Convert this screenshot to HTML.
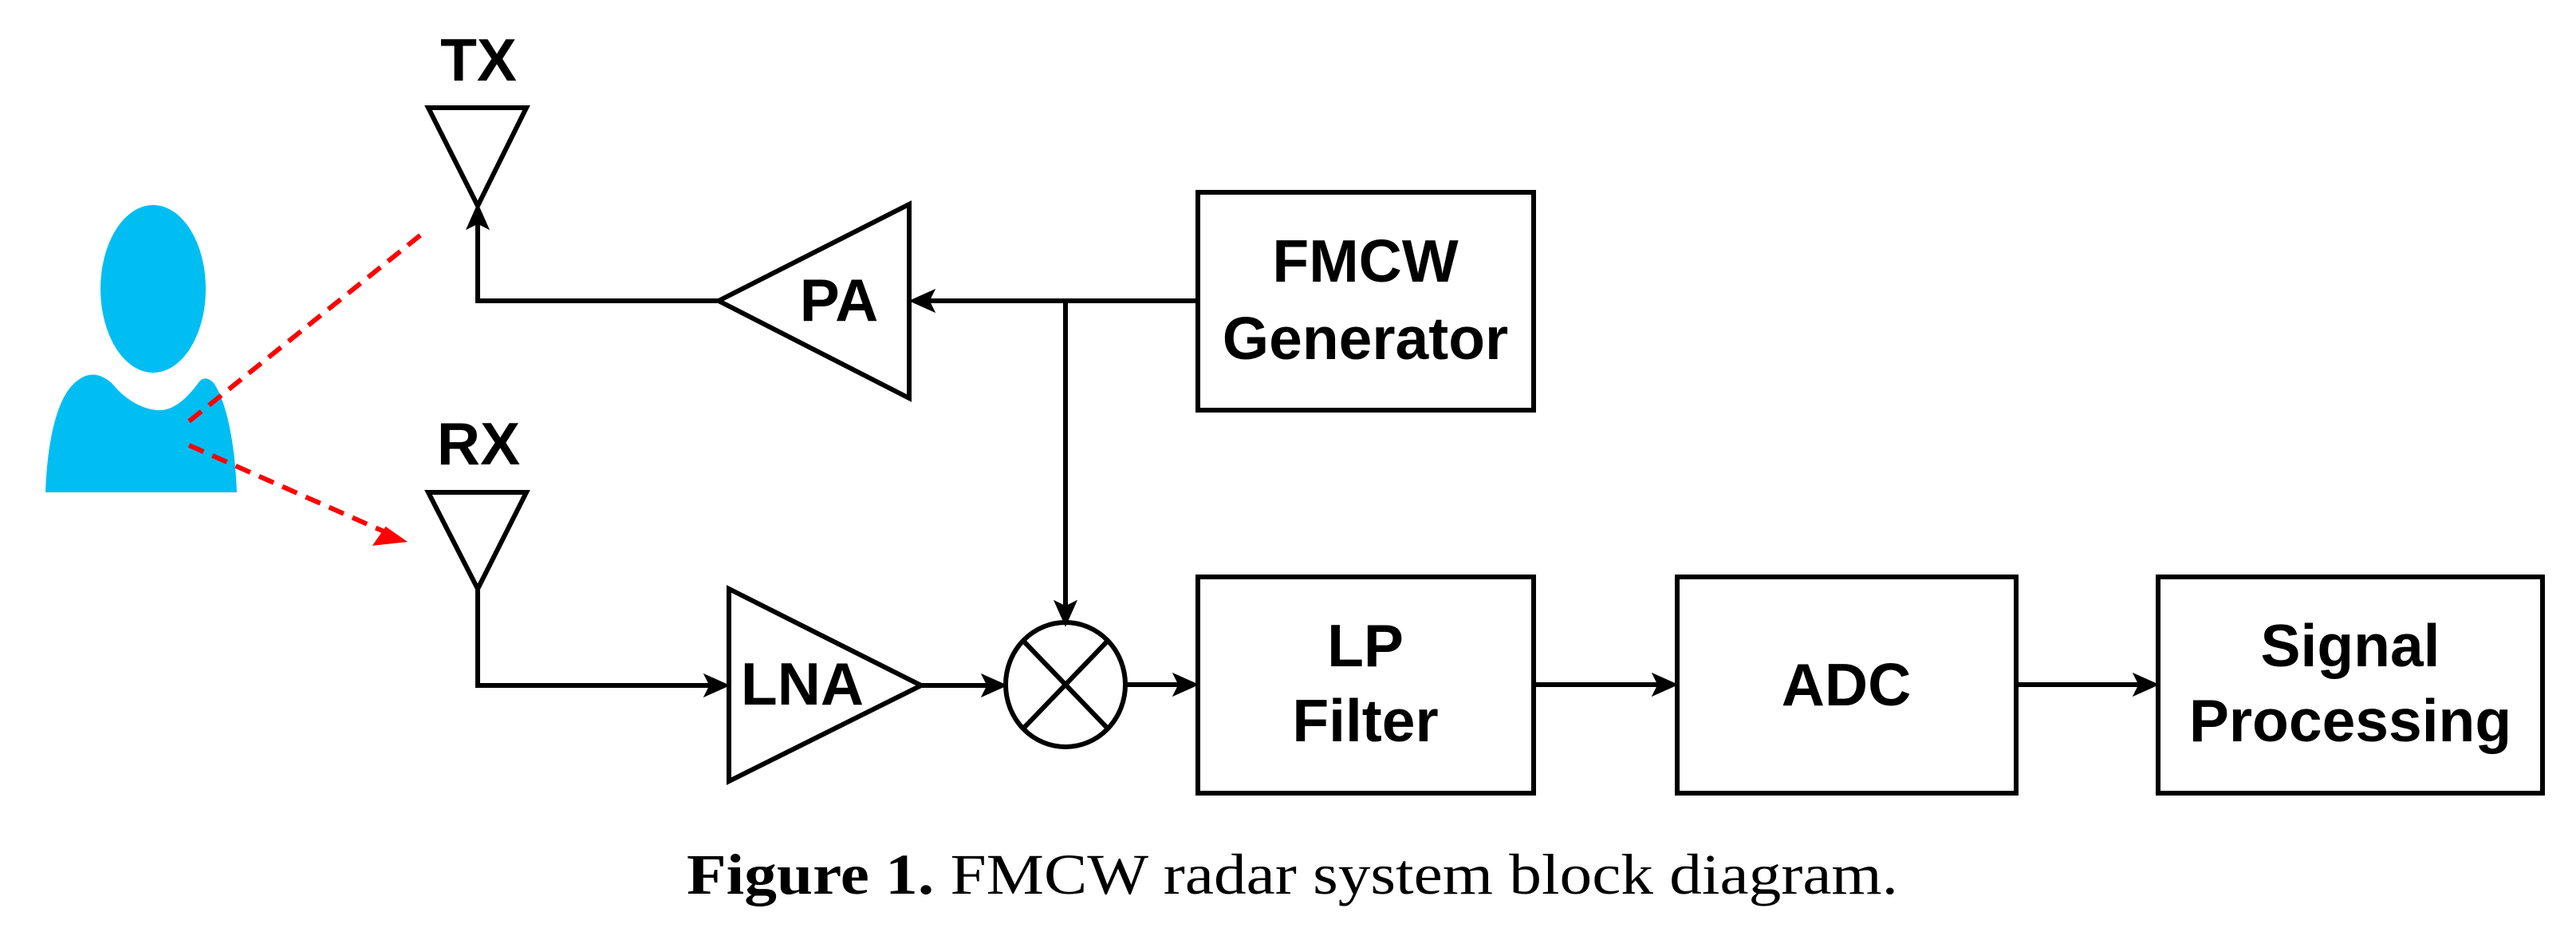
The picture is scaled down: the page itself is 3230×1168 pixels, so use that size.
<!DOCTYPE html>
<html><head><meta charset="utf-8"><style>html,body{margin:0;padding:0;background:#fff}svg{display:block}</style></head>
<body>
<svg width="3230" height="1168" viewBox="0 0 3230 1168" xmlns="http://www.w3.org/2000/svg">
<g fill="none" stroke="#000" stroke-width="6">
<!-- person -->
<ellipse cx="192" cy="362" rx="66" ry="105" fill="#00bef2" stroke="none"/>
<path d="M57 617 C60 540 75 490 100 475 C115 465 128 470 140 480 C160 505 185 515 203 514 C222 512 238 495 250 478 C256 472 262 474 268 480 C285 505 295 560 297 617 Z" fill="#00bef2" stroke="none"/>
<!-- red dashed -->
<line x1="237" y1="528" x2="533" y2="290" stroke="#f00" stroke-dasharray="20 12"/>
<line x1="237" y1="558" x2="488" y2="669" stroke="#f00" stroke-dasharray="20 12"/>
<polygon points="507,678 470,682 484,662" fill="#f00" stroke="#f00" stroke-width="3"/>
<!-- TX antenna -->
<polygon points="537,135 660,135 599,258"/>
<polyline points="901,377 599,377 599,275"/>
<polygon points="599,258 587,285 599,279 611,285" fill="#000" stroke-width="3"/>
<!-- PA -->
<polygon points="901,377 1140,256 1140,499"/>
<line x1="1502" y1="377" x2="1160" y2="377"/>
<polygon points="1143,377 1170,365 1164,377 1170,389" fill="#000" stroke-width="3"/>
<!-- FMCW box -->
<rect x="1502" y="241" width="421" height="273"/>
<line x1="1336" y1="377" x2="1336" y2="765"/>
<polygon points="1336,782 1324,755 1336,761 1348,755" fill="#000" stroke-width="3"/>
<!-- RX antenna -->
<polygon points="537,617 660,617 599,738"/>
<polyline points="599,738 599,859 895,859"/>
<polygon points="912,859 885,847 891,859 885,871" fill="#000" stroke-width="3"/>
<!-- LNA -->
<polygon points="914,738 914,979 1155,859"/>
<line x1="1155" y1="859" x2="1245" y2="859"/>
<polygon points="1260,859 1233,847 1239,859 1233,871" fill="#000" stroke-width="3"/>
<!-- mixer -->
<ellipse cx="1336" cy="858" rx="75" ry="78"/>
<line x1="1283" y1="803" x2="1389" y2="913"/>
<line x1="1389" y1="803" x2="1283" y2="913"/>
<line x1="1411" y1="858" x2="1485" y2="858"/>
<polygon points="1500,858 1473,846 1479,858 1473,870" fill="#000" stroke-width="3"/>
<!-- LP -->
<rect x="1502" y="723" width="421" height="271"/>
<line x1="1923" y1="858" x2="2086" y2="858"/>
<polygon points="2101,858 2074,846 2080,858 2074,870" fill="#000" stroke-width="3"/>
<!-- ADC -->
<rect x="2103" y="723" width="425" height="271"/>
<line x1="2528" y1="858" x2="2689" y2="858"/>
<polygon points="2704,858 2677,846 2683,858 2677,870" fill="#000" stroke-width="3"/>
<!-- Signal -->
<rect x="2706" y="723" width="482" height="271"/>
</g>
<g font-family="Liberation Sans, Arial, sans-serif" font-weight="bold" font-size="75" text-anchor="middle" fill="#000">
<text x="600" y="101">TX</text>
<text x="600" y="582">RX</text>
<text x="1052" y="402">PA</text>
<text x="1006" y="883">LNA</text>
<text x="1712" y="353">FMCW</text>
<text x="1712" y="450">Generator</text>
<text x="1712" y="835">LP</text>
<text x="1712" y="929">Filter</text>
<text x="2315" y="884">ADC</text>
<text x="2947" y="835">Signal</text>
<text x="2947" y="929">Processing</text>
</g>
<text x="861" y="1120" font-family="Liberation Serif, serif" font-size="72" textLength="1519" lengthAdjust="spacingAndGlyphs"><tspan font-weight="bold">Figure 1.</tspan> FMCW radar system block diagram.</text>
</svg>
</body></html>
